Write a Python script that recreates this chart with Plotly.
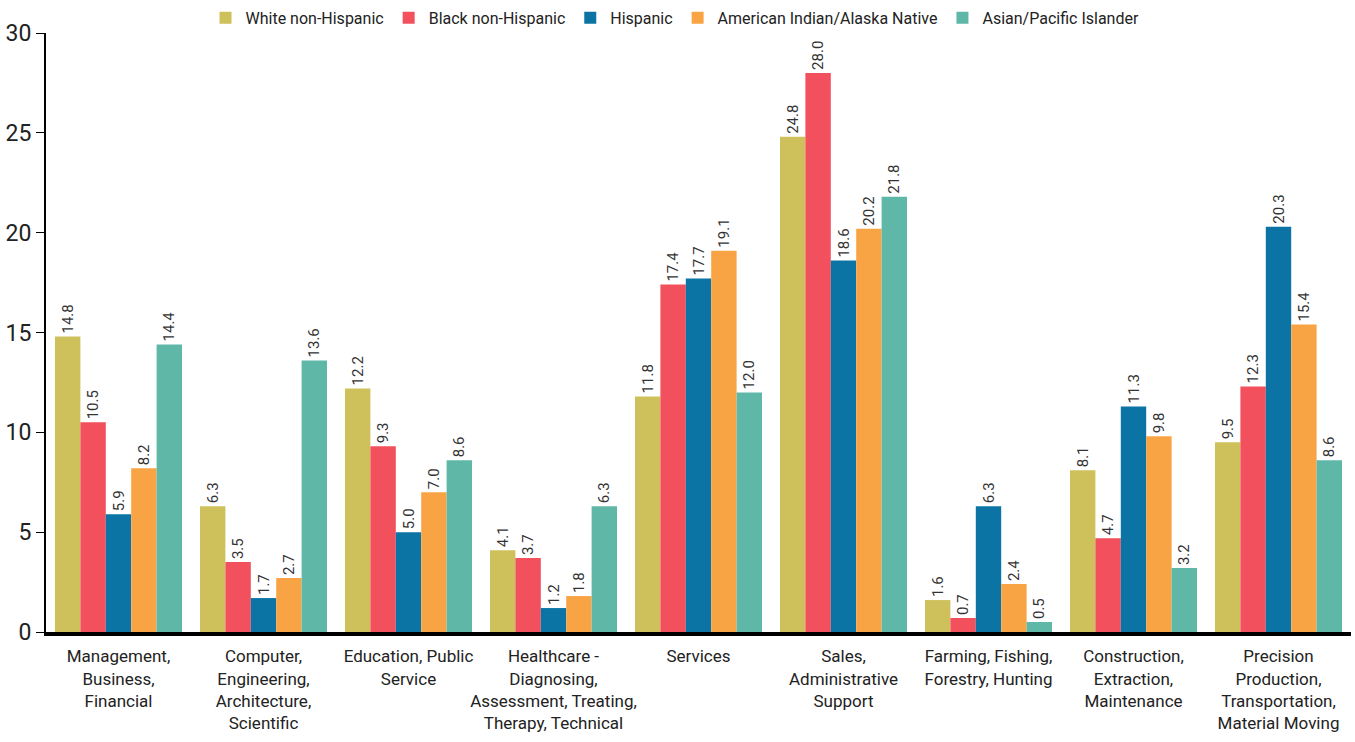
import plotly.graph_objects as go

categories = [
    "Management,<br>Business,<br>Financial",
    "Computer,<br>Engineering,<br>Architecture,<br>Scientific",
    "Education, Public<br>Service",
    "Healthcare -<br>Diagnosing,<br>Assessment, Treating,<br>Therapy, Technical",
    "Services",
    "Sales,<br>Administrative<br>Support",
    "Farming, Fishing,<br>Forestry, Hunting",
    "Construction,<br>Extraction,<br>Maintenance",
    "Precision<br>Production,<br>Transportation,<br>Material Moving",
]
white = [14.8, 6.3, 12.2, 4.1, 11.8, 24.8, 1.6, 8.1, 9.5]
black = [10.5, 3.5, 9.3, 3.7, 17.4, 28.0, 0.7, 4.7, 12.3]
hispanic = [5.9, 1.7, 5.0, 1.2, 17.7, 18.6, 6.3, 11.3, 20.3]
aian = [8.2, 2.7, 7.0, 1.8, 19.1, 20.2, 2.4, 9.8, 15.4]
asian = [14.4, 13.6, 8.6, 6.3, 12.0, 21.8, 0.5, 3.2, 8.6]

series = [
    ("White non-Hispanic", white, "#CEC15B"),
    ("Black non-Hispanic", black, "#F2505D"),
    ("Hispanic", hispanic, "#0B74A5"),
    ("American Indian/Alaska Native", aian, "#F9A444"),
    ("Asian/Pacific Islander", asian, "#5FB7A7"),
]

font = "Roboto"
fig = go.Figure()
for name, vals, color in series:
    fig.add_trace(go.Bar(
        name=name, x=categories, y=vals, marker_color=color,
        marker_line_width=0,
        text=[f"{v:.1f}" for v in vals], textposition="outside",
        textangle=-90, constraintext="none", cliponaxis=False,
        textfont=dict(family=font, size=15, color="#333333"),
    ))

fig.update_layout(
    width=1355, height=742,
    barmode="group", bargap=0.124, bargroupgap=0,
    plot_bgcolor="white", paper_bgcolor="white",
    margin=dict(l=46, r=4, t=33, b=110, autoexpand=False),
    font=dict(family=font, color="#222222"),
    legend=dict(orientation="h", x=0.482, xanchor="center",
                yref="container", y=0.976, yanchor="middle",
                font=dict(family=font, size=16, color="#222222"),
                itemwidth=30, traceorder="normal"),
    showlegend=True,
)
fig.update_yaxes(range=[0, 30], tickvals=[0, 5, 10, 15, 20, 25, 30],
                 automargin=False,
                 showgrid=False, zeroline=False, showline=True, linecolor="black",
                 linewidth=2, ticks="outside", ticklen=8, tickcolor="black",
                 tickfont=dict(family=font, size=23, color="#222222"))
fig.update_xaxes(showgrid=False, showline=True, linecolor="black", linewidth=4,
                 ticks="", tickangle=0, automargin=False, ticklabelstandoff=6,
                 tickfont=dict(family=font, size=17, color="#222222"))

fig.write_html("out.html", config={"displayModeBar": False},
               post_script="document.body.style.margin='0';document.body.style.overflow='hidden';")
